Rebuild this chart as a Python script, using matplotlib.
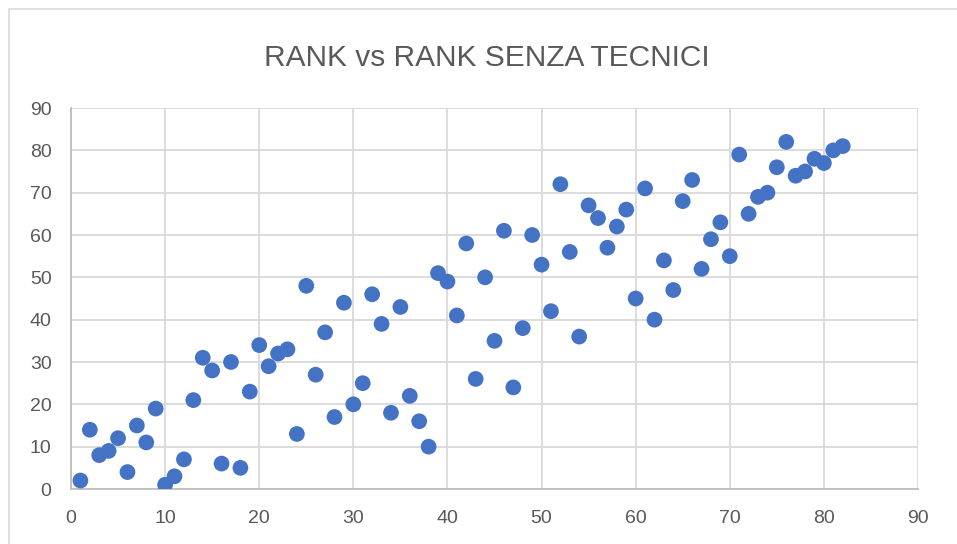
import matplotlib.pyplot as plt
from matplotlib.patches import Rectangle

rank = list(range(1, 83))
rank_senza_tecnici = [2, 14, 8, 9, 12, 4, 15, 11, 19, 1, 3, 7, 21, 31, 28, 6, 30, 5, 23, 34,
                      29, 32, 33, 13, 48, 27, 37, 17, 44, 20, 25, 46, 39, 18, 43, 22, 16, 10, 51, 49,
                      41, 58, 26, 50, 35, 61, 24, 38, 60, 53, 42, 72, 56, 36, 67, 64, 57, 62, 66, 45,
                      71, 40, 54, 47, 68, 73, 52, 59, 63, 55, 79, 65, 69, 70, 76, 82, 74, 75, 78, 77,
                      80, 81]
ticks = list(range(0, 91, 10))

plt.rcParams['font.family'] = ['Liberation Sans', 'DejaVu Sans']
grey = '#595959'

fig = plt.figure(figsize=(9.57, 5.44), dpi=100)
# chart frame (excel border)
fig.patches.append(Rectangle((9/957, -0.1), 1.2, 1 - 9/544 + 0.1, transform=fig.transFigure,
                             facecolor='white', edgecolor='#d9d9d9', lw=1.2, zorder=-5))
ax = fig.add_axes([71/957, 1 - 489/544, (918 - 71)/957, (489 - 108)/544])
ax.patch.set_alpha(0)

ax.scatter(rank, rank_senza_tecnici, s=128, color='#4472C4', edgecolors='none', zorder=3)

ax.set_xlim(0, 90)
ax.set_ylim(0, 90)
ax.set_xticks(ticks)
ax.set_yticks(ticks)
ax.grid(True, color='#d9d9d9', lw=1.3)
ax.set_axisbelow(True)
for s in ['top', 'right']:
    ax.spines[s].set_visible(False)
for s in ['left', 'bottom']:
    ax.spines[s].set_color('#bfbfbf')
    ax.spines[s].set_linewidth(1.3)
ax.tick_params(length=0, labelsize=14, colors=grey)
ax.tick_params(axis='x', pad=15)
ax.tick_params(axis='y', pad=14)

fig.text(487/957, 1 - 58/544, 'RANK vs RANK SENZA TECNICI', ha='center', va='center',
         fontsize=21.5, color=grey)

fig.savefig('out.png', dpi=100)
